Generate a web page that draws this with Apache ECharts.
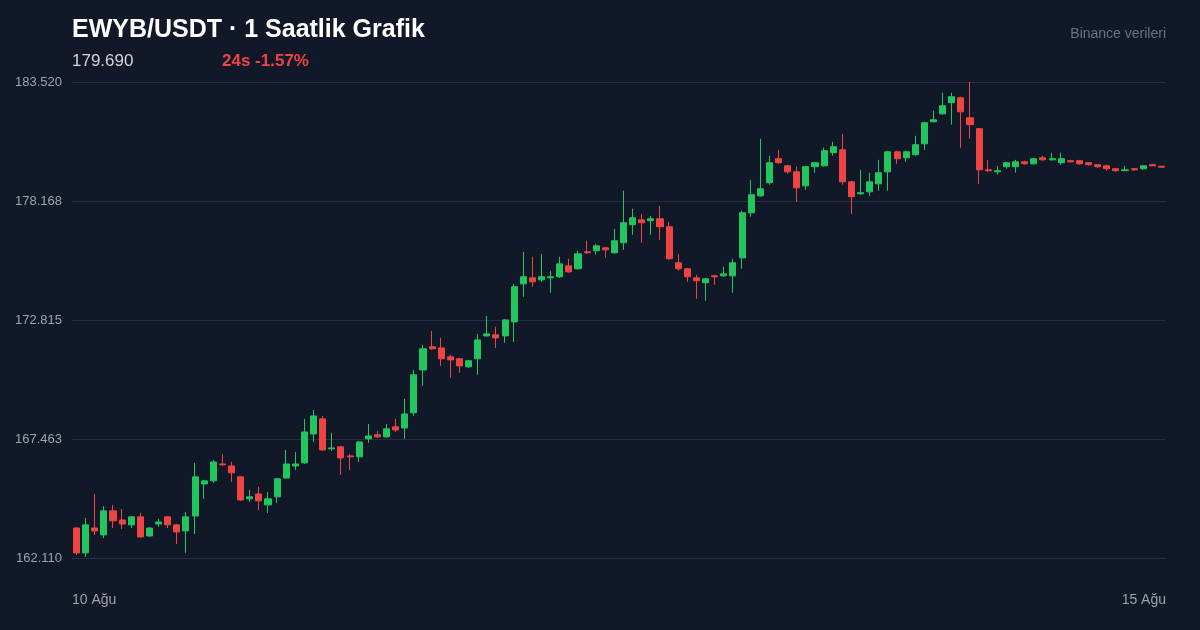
<!DOCTYPE html>
<html><head><meta charset="utf-8">
<script src="https://cdn.jsdelivr.net/npm/echarts@6/dist/echarts.min.js"></script>
<style>html,body{margin:0;padding:0;background:#111827;}#c{width:1200px;height:630px;}</style>
</head><body><div id="c"></div>
<script>
const opens=[163.46,162.34,163.46,163.15,164.23,163.82,163.60,163.96,163.10,163.64,163.96,163.60,163.33,164.00,165.44,165.58,166.34,166.25,165.76,164.77,164.99,164.50,164.86,165.71,166.25,166.39,167.69,168.37,167.02,167.11,166.70,166.66,167.47,167.65,167.56,168.01,167.96,168.64,170.57,171.61,171.56,171.16,171.07,170.71,171.07,172.10,172.15,172.10,172.73,174.44,174.71,174.62,174.71,174.76,175.25,175.12,175.88,175.93,176.06,175.84,176.29,177.10,177.32,177.28,177.37,177.01,175.39,175.12,174.71,174.49,174.80,174.80,174.80,175.61,177.64,178.40,178.99,180.07,179.75,179.48,178.85,179.71,179.75,180.34,180.47,179.03,178.49,178.58,178.94,179.48,180.38,180.11,180.25,180.74,181.73,182.09,182.59,182.81,181.91,181.42,179.57,179.48,179.71,179.71,179.93,179.84,180.11,180.02,179.89,179.98,179.98,179.89,179.80,179.75,179.62,179.53,179.62,179.62,179.80,179.73];
const closes=[162.34,163.60,163.33,164.23,163.78,163.64,163.96,163.06,163.46,163.73,163.60,163.28,163.96,165.76,165.58,166.43,166.30,165.94,164.72,164.86,164.68,164.77,165.67,166.34,166.34,167.78,168.50,166.97,167.06,166.61,166.66,167.33,167.60,167.56,167.92,167.87,168.59,170.35,171.52,171.52,171.07,171.02,170.75,170.98,171.92,172.19,172.01,172.82,174.31,174.76,174.53,174.76,174.76,175.34,174.98,175.79,175.84,176.15,175.97,176.38,177.19,177.41,177.19,177.37,177.01,175.57,175.12,174.76,174.58,174.67,174.76,174.89,175.39,177.64,178.45,178.72,179.89,179.89,179.48,178.76,179.71,179.89,180.43,180.61,179.03,178.36,178.54,179.03,179.44,180.38,180.07,180.38,180.70,181.69,181.82,182.45,182.86,182.18,181.60,179.57,179.53,179.53,179.89,179.93,179.84,180.07,180.02,180.07,180.07,179.93,179.84,179.80,179.71,179.62,179.53,179.57,179.57,179.75,179.75,179.69];
const lows=[162.25,162.16,163.15,163.01,163.46,163.42,163.46,163.01,163.06,163.51,163.46,162.74,162.34,163.19,164.77,165.49,166.25,165.53,164.68,164.63,164.27,164.14,164.59,165.67,166.07,166.34,167.33,166.93,166.93,165.85,166.07,166.43,167.29,167.51,167.51,167.78,167.47,168.50,169.85,171.47,170.75,170.21,170.44,170.66,170.35,172.06,171.56,171.79,171.83,173.86,174.31,174.53,174.04,174.71,174.94,175.07,175.79,175.75,175.61,175.79,175.97,176.65,176.29,176.65,176.42,175.52,175.03,174.53,173.77,173.68,174.40,174.76,174.04,175.12,177.46,178.36,178.90,179.84,179.39,178.13,178.67,179.44,179.71,180.20,178.90,177.59,178.45,178.40,178.63,178.63,179.84,179.93,180.20,180.47,181.73,182.05,181.60,180.56,180.97,178.94,179.48,179.35,179.62,179.44,179.80,179.80,179.98,179.98,179.80,179.89,179.80,179.75,179.66,179.53,179.48,179.53,179.53,179.57,179.75,179.66];
const highs=[163.51,163.91,164.99,164.45,164.50,164.32,164.00,164.14,163.51,163.87,164.00,163.64,164.18,166.39,165.62,166.52,166.79,166.43,165.80,165.17,165.31,165.08,165.71,166.97,166.88,168.37,168.77,168.50,167.74,167.15,166.79,167.38,168.14,167.83,168.14,168.37,169.27,170.57,171.70,172.33,172.01,171.25,171.11,171.02,172.19,173.00,172.51,172.87,174.44,175.88,175.66,175.79,175.03,175.66,175.57,175.93,176.38,176.24,176.11,176.92,178.63,177.82,177.59,177.50,177.95,177.23,175.79,175.16,174.85,174.71,174.85,175.21,175.57,177.73,179.12,180.97,180.20,180.47,179.80,179.71,179.75,179.93,180.56,180.83,181.19,179.07,179.57,179.44,180.02,180.43,180.43,180.43,181.10,181.73,182.23,183.04,183.04,182.86,183.52,181.46,180.02,179.75,179.93,180.02,179.98,180.11,180.20,180.34,180.34,180.02,180.02,179.89,179.80,179.80,179.62,179.75,179.66,179.75,179.84,179.75];
const yTicks=[162.110,167.463,172.815,178.168,183.520];
const yTickLabels=['162.110','167.463','172.815','178.168','183.520'];
const categories=opens.map((_,i)=>'h'+i);
const candles=opens.map((o,i)=>[o,closes[i],lows[i],highs[i]]);
const chart=echarts.init(document.getElementById('c'));
chart.setOption({
  backgroundColor:'#111827',
  animation:false,
  grid:{left:72,right:34,top:82,bottom:72},
  xAxis:{type:'category',data:categories,boundaryGap:true,axisLine:{show:false},axisTick:{show:false},axisLabel:{show:false},splitLine:{show:false}},
  yAxis:{type:'value',min:yTicks[0],max:yTicks[4],interval:(yTicks[4]-yTicks[0])/4,
    axisLine:{show:false},axisTick:{show:false},
    splitLine:{lineStyle:{color:'#243041',width:1}},
    axisLabel:{color:'#9ca3af',fontSize:13,fontFamily:'Liberation Sans, Arial',margin:10,
      formatter:v=>{let b=0;for(let i=1;i<yTicks.length;i++){if(Math.abs(yTicks[i]-v)<Math.abs(yTicks[b]-v))b=i;}return yTickLabels[b];}}},
  series:[{type:'candlestick',data:candles,barWidth:'72%',
    itemStyle:{color:'#22c55e',color0:'#ef4444',borderColor:'#22c55e',borderColor0:'#ef4444',borderWidth:1}}],
  graphic:[
    {type:'text',left:72,top:18,style:{text:'EWYB/USDT · 1 Saatlik Grafik',fill:'#ffffff',font:'bold 25px "Liberation Sans", Arial'}},
    {type:'text',left:72,top:53,style:{text:'179.690',fill:'#d1d5db',font:'17px "Liberation Sans", Arial'}},
    {type:'text',left:222,top:53,style:{text:'24s -1.57%',fill:'#ef4444',font:'bold 17px "Liberation Sans", Arial'}},
    {type:'text',right:34,top:27,style:{text:'Binance verileri',fill:'#6b7280',font:'14px "Liberation Sans", Arial'}},
    {type:'text',left:72,top:593,style:{text:'10 Ağu',fill:'#9ca3af',font:'14px "Liberation Sans", Arial'}},
    {type:'text',right:34,top:593,style:{text:'15 Ağu',fill:'#9ca3af',font:'14px "Liberation Sans", Arial'}}
  ]
});
</script></body></html>
